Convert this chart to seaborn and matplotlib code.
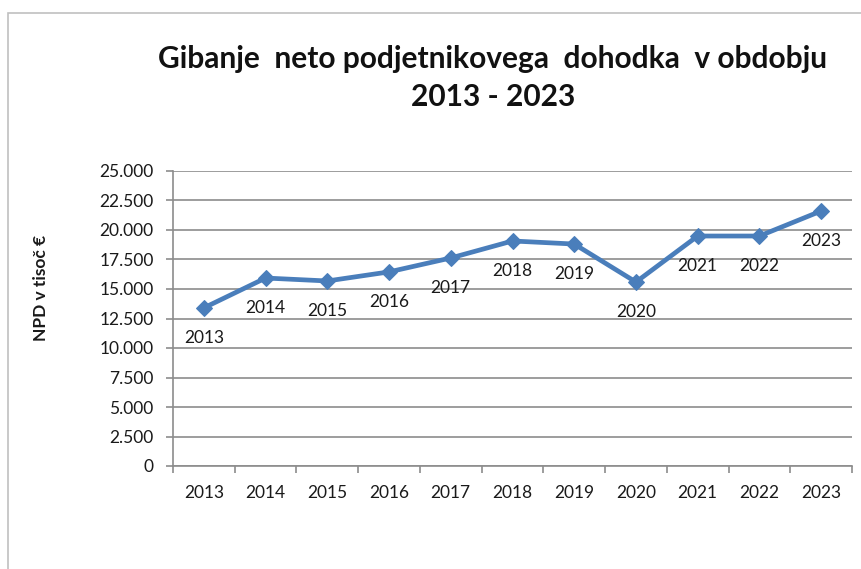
import matplotlib
matplotlib.use("Agg")
import matplotlib.pyplot as plt
from matplotlib.patches import Rectangle
from matplotlib.ticker import FixedLocator, FuncFormatter
import seaborn as sns
import pandas as pd

years = ["2013", "2014", "2015", "2016", "2017", "2018", "2019", "2020", "2021", "2022", "2023"]
npd = [13400, 15930, 15680, 16450, 17630, 19070, 18810, 15590, 19490, 19490, 21610]
yticks = [0, 2500, 5000, 7500, 10000, 12500, 15000, 17500, 20000, 22500, 25000]
title = "Gibanje  neto podjetnikovega  dohodka  v obdobju\n2013 - 2023"
ylabel = "NPD v tisoč €"

sns.set_theme(style="white")
plt.rcParams["font.family"] = ["Lato", "DejaVu Sans"]

W, H = 861, 569
fig = plt.figure(figsize=(W / 100, H / 100), dpi=100)
fig.patch.set_facecolor("white")

# outer chart frame (right and bottom edges fall outside the picture)
fig.patches.append(Rectangle((8 / W, -0.2), 1.2, 1.2 - 13 / H, transform=fig.transFigure,
                             fill=False, edgecolor="#c0c0c0", linewidth=1.2, zorder=0))

ax = fig.add_axes([173 / W, 1 - 466 / H, (852 - 173) / W, (466 - 171) / H])

df = pd.DataFrame({"pos": list(range(len(years))), "npd": npd, "year": years})
sns.lineplot(data=df, x="pos", y="npd", ax=ax, color="#4a7ebb", linewidth=3.4,
             marker="D", markersize=8.5, markeredgecolor="#4a7ebb", zorder=3)

ax.set_xlim(-0.5, len(years) - 0.5)
ax.set_ylim(0, 25000)
ax.yaxis.set_major_locator(FixedLocator(yticks))
ax.yaxis.set_major_formatter(FuncFormatter(lambda v, p: f"{int(v):,}".replace(",", ".")))
ax.grid(axis="y", color="#8c8c8c", linewidth=1.2)
ax.set_axisbelow(True)

ax.set_xticks([i - 0.5 for i in range(len(years) + 1)])
ax.set_xticklabels([])
ax.set_xticks(list(range(len(years))), minor=True)
ax.set_xticklabels(years, minor=True)
ax.tick_params(axis="x", which="major", length=5, width=1.2, color="#8c8c8c", direction="out", bottom=True)
ax.tick_params(axis="x", which="minor", length=0, pad=14, labelsize=12.5, labelcolor="#1a1a1a")
ax.tick_params(axis="y", length=5, width=1.2, color="#8c8c8c", direction="out", left=True,
               pad=9, labelsize=12.5, labelcolor="#1a1a1a")

for s in ["top", "right"]:
    ax.spines[s].set_visible(False)
for s in ["left", "bottom"]:
    ax.spines[s].set_color("#8c8c8c")
    ax.spines[s].set_linewidth(1.2)

for i, (y, v) in enumerate(zip(years, npd)):
    ax.annotate(y, (i, v), xytext=(0, -21.5), textcoords="offset points",
                ha="center", va="center", fontsize=12.5, color="#1a1a1a")

ax.set_xlabel("")
ax.set_ylabel("")
fig.text(41 / W, 1 - 288 / H, ylabel, rotation=90, ha="center", va="center",
         fontsize=12.5, fontweight="bold", color="#1a1a1a")
fig.text(493 / W, 1 - 78 / H, title, ha="center", va="center", fontsize=21.5,
         fontweight="bold", color="#111111", linespacing=1.45)

fig.savefig("out.png", dpi=100)
